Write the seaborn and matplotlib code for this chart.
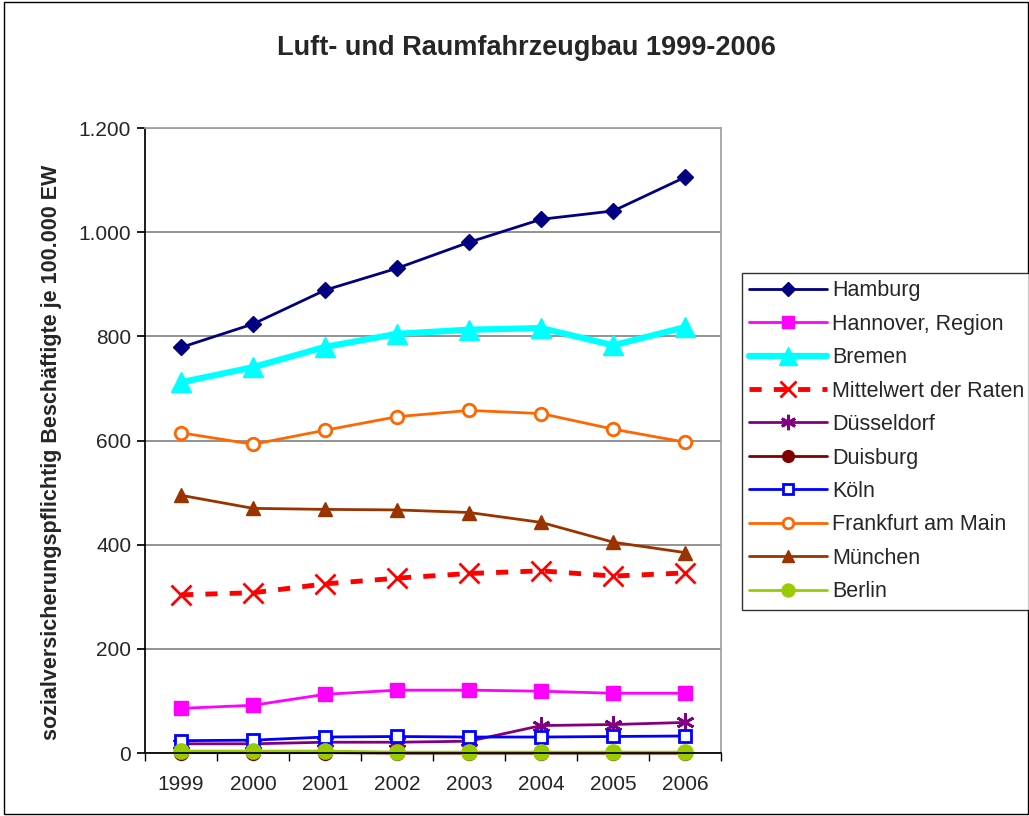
import matplotlib
matplotlib.use("Agg")
import matplotlib.pyplot as plt
import matplotlib.ticker as mticker
import pandas as pd
import seaborn as sns

years = ["1999", "2000", "2001", "2002", "2003", "2004", "2005", "2006"]

hamburg = [779, 824, 889, 931, 981, 1025, 1041, 1106]
hannover = [86, 92, 113, 121, 121, 119, 115, 115]
bremen = [712, 741, 780, 805, 813, 816, 783, 818]
mittelwert = [304, 308, 325, 336, 345, 350, 340, 346]
duesseldorf = [18, 18, 21, 21, 23, 53, 55, 59]
duisburg = [1, 1, 1, 0, 0, 0, 0, 0]
koeln = [24, 25, 31, 32, 31, 31, 32, 33]
frankfurt = [615, 593, 620, 646, 658, 652, 622, 597]
muenchen = [495, 470, 468, 467, 462, 443, 405, 385]
berlin = [4, 4, 4, 2, 2, 2, 2, 2]

series = {
    "Hamburg": hamburg,
    "Hannover, Region": hannover,
    "Bremen": bremen,
    "Mittelwert der Raten": mittelwert,
    "Düsseldorf": duesseldorf,
    "Duisburg": duisburg,
    "Köln": koeln,
    "Frankfurt am Main": frankfurt,
    "München": muenchen,
    "Berlin": berlin,
}

# name: (color, marker, markersize, linewidth, linestyle, filled)
styles = {
    "Hamburg": ("#000080", "D", 8, 2, "-", True),
    "Hannover, Region": ("#FF00FF", "s", 10, 2, "-", True),
    "Bremen": ("#00FFFF", "^", 15, 4.5, "-", True),
    "Mittelwert der Raten": ("#FF0000", "x", 14, 3.5, (0, (2.5, 2.5)), True),
    "Düsseldorf": ("#800080", (6, 2, 0), 13, 2, "-", True),
    "Duisburg": ("#800000", "o", 10, 2, "-", True),
    "Köln": ("#0000FF", "s", 9, 2, "-", False),
    "Frankfurt am Main": ("#FF6600", "o", 9, 2, "-", False),
    "München": ("#993300", "^", 10, 2, "-", True),
    "Berlin": ("#99CC00", "o", 11, 2, "-", True),
}

rows = []
for name, vals in series.items():
    for i, v in enumerate(vals):
        rows.append({"series": name, "pos": i, "value": v})
df = pd.DataFrame(rows)

sns.set_theme(style="white")
plt.rcParams["font.family"] = ["Liberation Sans", "DejaVu Sans"]

fig = plt.figure(figsize=(10.29, 8.16), dpi=100)
ax = fig.add_axes([0.141, 0.077, 0.56, 0.766])

for name in series:
    color, marker, ms, lw, ls, filled = styles[name]
    sub = df[df["series"] == name]
    sns.lineplot(
        data=sub, x="pos", y="value", ax=ax, color=color, linewidth=lw,
        linestyle=ls, marker=marker, markersize=ms,
        markerfacecolor=color if filled else "white",
        markeredgecolor=color, markeredgewidth=2 if marker in ("x", (6, 2, 0)) or not filled else 1,
        label=name, legend=False, clip_on=False,
    )

ax.set_xlim(-0.5, 7.5)
ax.set_ylim(0, 1200)
ax.set_xticks(range(len(years)))
ax.set_xticklabels(years, fontsize=15)
ax.set_xticks([i + 0.5 for i in range(-1, 8)], minor=True)
ax.tick_params(axis="x", which="major", length=0, pad=16)
ax.tick_params(axis="x", which="minor", length=6, direction="out", color="black", bottom=True)
ax.set_yticks(range(0, 1201, 200))
ax.yaxis.set_major_formatter(mticker.FuncFormatter(lambda v, p: f"{int(v):,}".replace(",", ".")))
ax.tick_params(axis="y", length=6, direction="out", color="black", left=True, labelsize=15, pad=4)
ax.yaxis.grid(True, color="#808080", linewidth=1.2)
ax.set_axisbelow(True)
for side in ("top", "right"):
    ax.spines[side].set_color("#A0A0A0")
for side in ("left", "bottom"):
    ax.spines[side].set_color("black")
ax.set_xlabel("")
ax.set_ylabel("sozialversicherungspflichtig Beschäftigte je 100.000 EW",
              fontsize=15.5, fontweight="bold")
ax.yaxis.set_label_coords(-0.145, 0.482)

fig.text(526 / 1029, 1 - 48 / 816, "Luft- und Raumfahrzeugbau 1999-2006",
         fontsize=19.5, fontweight="bold", ha="center", va="center")

handles, labels = ax.get_legend_handles_labels()
leg = fig.legend(handles, labels, loc="upper left", bbox_to_anchor=(0.721, 0.666),
                 fontsize=15.5, frameon=True, fancybox=False, edgecolor="black",
                 handlelength=3.6, handletextpad=0.25, labelspacing=0.58,
                 borderpad=0.35, borderaxespad=0, markerscale=0.85)
leg.get_frame().set_linewidth(1)

fig.patches.append(plt.Rectangle((0.004, 0.002), 0.995, 0.996, transform=fig.transFigure,
                                 fill=False, edgecolor="black", linewidth=1))

fig.savefig("out.png", dpi=100, facecolor="white")
